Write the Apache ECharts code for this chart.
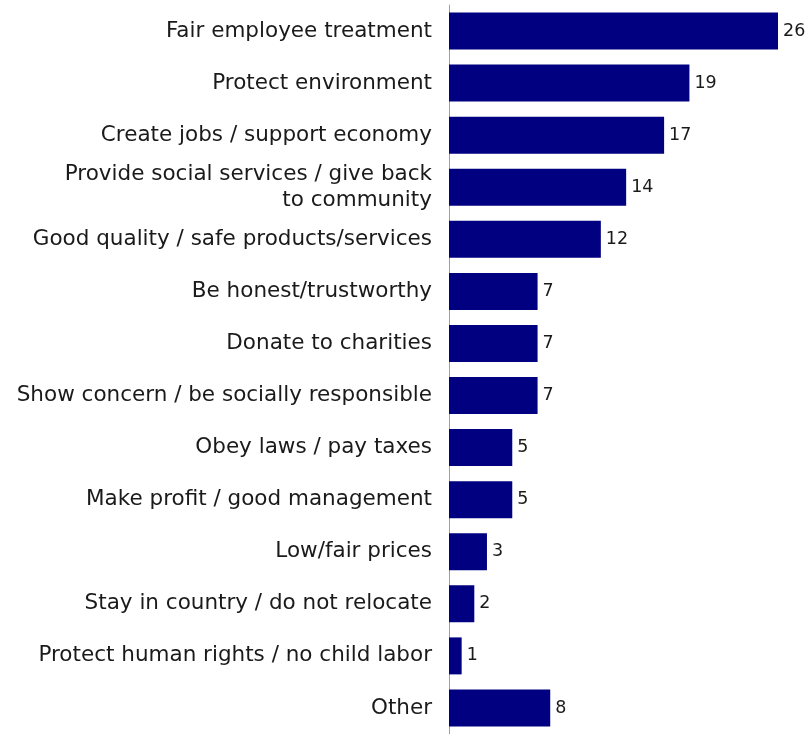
<!DOCTYPE html>
<html><head><meta charset="utf-8">
<script src="https://cdn.jsdelivr.net/npm/echarts@6/dist/echarts.min.js"></script>
<style>html,body{margin:0;padding:0;background:#fff}#c{width:810px;height:734px}</style>
</head><body><div id="c"></div>
<script>
const categories = [
  "Fair employee treatment",
  "Protect environment",
  "Create jobs / support economy",
  "Provide social services / give back\nto community",
  "Good quality / safe products/services",
  "Be honest/trustworthy",
  "Donate to charities",
  "Show concern / be socially responsible",
  "Obey laws / pay taxes",
  "Make profit / good management",
  "Low/fair prices",
  "Stay in country / do not relocate",
  "Protect human rights / no child labor",
  "Other"
];
const values = [26, 19, 17, 14, 12, 7, 7, 7, 5, 5, 3, 2, 1, 8];

const chart = echarts.init(document.getElementById('c'));
chart.setOption({
  animation: false,
  grid: { left: 449, top: 5, width: 329, height: 736, containLabel: false },
  xAxis: { type: 'value', min: 0, max: 26, show: false },
  yAxis: {
    type: 'category', data: categories, inverse: true,
    axisLine: { show: true, lineStyle: { color: '#a0a0a0', width: 1 } },
    axisTick: { show: false },
    axisLabel: { color: '#1a1a1a', fontSize: 21.5, fontFamily: 'DejaVu Sans', margin: 17, align: 'right', lineHeight: 26 }
  },
  series: [{
    type: 'bar', data: values, barCategoryGap: '29%',
    itemStyle: { color: '#000080' },
    label: { show: true, position: 'right', distance: 5, color: '#1a1a1a', fontSize: 17.5, fontFamily: 'DejaVu Sans' }
  }]
});
</script></body></html>
